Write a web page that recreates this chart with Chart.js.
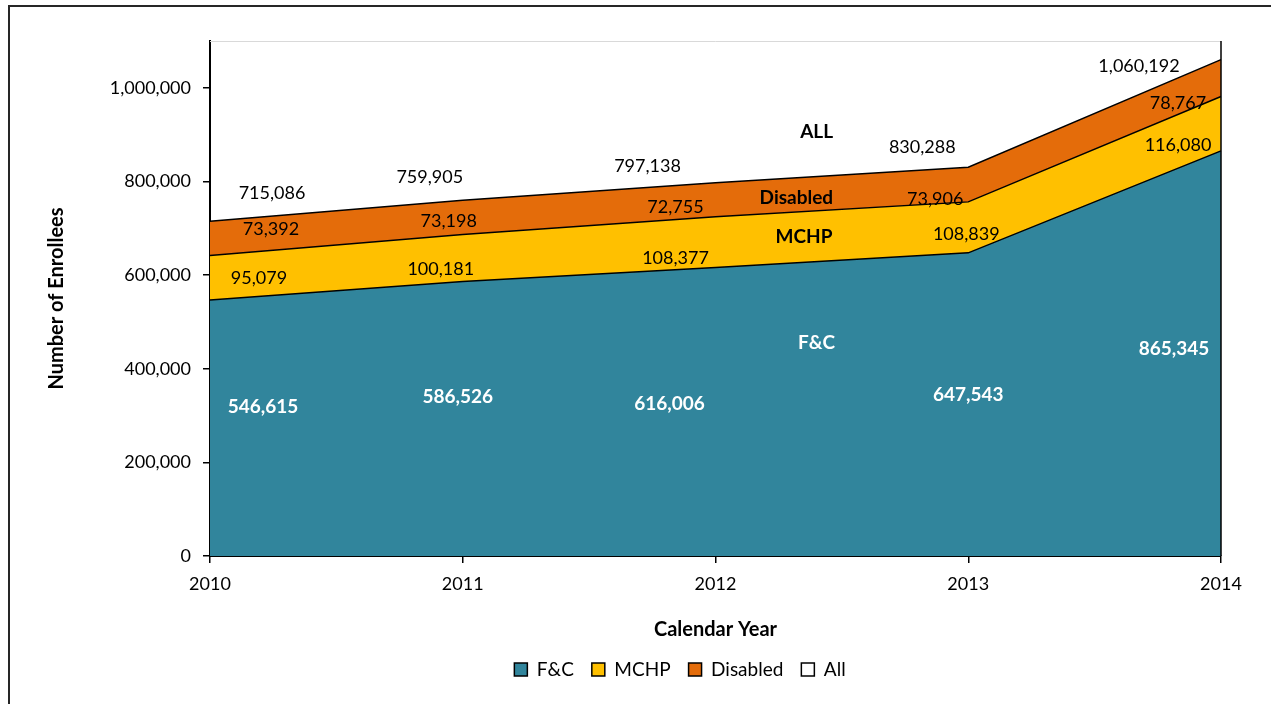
<!DOCTYPE html>
<html>
<head>
<meta charset="utf-8">
<script src="https://cdn.jsdelivr.net/npm/chart.js@4/dist/chart.umd.min.js"></script>
<style>
  html, body { margin: 0; padding: 0; background: #ffffff; }
  #wrap { width: 1271px; height: 704px; position: relative; }
</style>
</head>
<body>
<div id="wrap"><canvas id="c" width="1271" height="704"></canvas></div>
<script>
// ---- data ----
const years = ['2010', '2011', '2012', '2013', '2014'];
const fcValues = [546615, 586526, 616006, 647543, 865345];
const mchpValues = [95079, 100181, 108377, 108839, 116080];
const disabledValues = [73392, 73198, 72755, 73906, 78767];
const allValues = [715086, 759905, 797138, 830288, 1060192];
const yTickValues = [0, 200000, 400000, 600000, 800000, 1000000];
const seriesNames = ['F&C', 'MCHP', 'Disabled', 'All'];

// ---- label placement (pixel offsets from each segment's top point) ----
const allLabelOffsets = [[62, -28], [-33, -23], [-68, -17], [-46, -20], [-82, 7]];
const disabledLabelOffsets = [[61, 8], [-14, 21], [-40, 24], [-33, 32], [-43, 44]];
const mchpLabelOffsets = [[49, 23], [-22, 35], [-40, 41], [-2, 32], [-43, 49]];
const fcLabelOffsets = [[53, 107], [-5, 115], [-46, 136], [0, 142], [-47, 198]];
// series name tags: [text, category position, value position, colour]
const nameTags = [
  ['ALL', 2.40, 905800, '#000000'],
  ['Disabled', 2.32, 764500, '#000000'],
  ['MCHP', 2.35, 681000, '#000000'],
  ['F&C', 2.40, 456100, '#ffffff']
];
const legendCenterX = 680;

const FONT = 'Lato, "Open Sans", sans-serif';
const fmt = v => v.toLocaleString('en-US');

const framePlugin = {
  id: 'frame',
  afterLayout(chart) {
    const lg = chart.legend;
    if (lg) {
      const shift = legendCenterX - (lg.left + lg.right) / 2;
      lg.left += shift;
      lg.right += shift;
    }
  },
  beforeDraw(chart) {
    const ctx = chart.ctx;
    ctx.save();
    ctx.fillStyle = '#ffffff';
    ctx.fillRect(0, 0, chart.width, chart.height);
    ctx.strokeStyle = '#262626';
    ctx.lineWidth = 2;
    ctx.beginPath();
    ctx.moveTo(9, chart.height + 5);
    ctx.lineTo(9, 6);
    ctx.lineTo(chart.width + 5, 6);
    ctx.stroke();
    ctx.restore();
  },
  afterDatasetsDraw(chart) {
    const ctx = chart.ctx;
    const a = chart.chartArea;
    ctx.save();
    ctx.strokeStyle = '#d9d9d9';
    ctx.lineWidth = 1;
    ctx.beginPath();
    ctx.moveTo(a.left, a.top + 0.5);
    ctx.lineTo(a.right, a.top + 0.5);
    ctx.stroke();
    ctx.strokeStyle = '#000000';
    ctx.lineWidth = 1.5;
    ctx.beginPath();
    ctx.moveTo(a.right, a.top);
    ctx.lineTo(a.right, a.bottom);
    ctx.stroke();

    // data labels
    const sets = [
      [0, fcValues, fcLabelOffsets, 'bold 19px ' + FONT, '#ffffff'],
      [1, mchpValues, mchpLabelOffsets, '18px ' + FONT, '#000000'],
      [2, disabledValues, disabledLabelOffsets, '18px ' + FONT, '#000000'],
      [2, allValues, allLabelOffsets, '18px ' + FONT, '#000000']
    ];
    ctx.textAlign = 'center';
    ctx.textBaseline = 'middle';
    sets.forEach(([di, vals, offs, font, color]) => {
      const meta = chart.getDatasetMeta(di);
      ctx.font = font;
      ctx.fillStyle = color;
      vals.forEach((v, i) => {
        const p = meta.data[i];
        ctx.fillText(fmt(v), p.x + offs[i][0], p.y + offs[i][1]);
      });
    });
    const xs = chart.scales.x, ys = chart.scales.y;
    ctx.font = 'bold 19px ' + FONT;
    nameTags.forEach(([t, xv, yv, color]) => {
      ctx.fillStyle = color;
      ctx.fillText(t, xs.getPixelForValue(xv), ys.getPixelForValue(yv));
    });
    ctx.restore();
  }
};

const lineBase = { tension: 0, pointRadius: 0, pointHoverRadius: 0, borderColor: '#000000', borderWidth: 1.5 };

new Chart(document.getElementById('c'), {
  type: 'line',
  data: {
    labels: years,
    datasets: [
      Object.assign({ label: seriesNames[0], data: fcValues, backgroundColor: '#31859c', fill: 'origin' }, lineBase),
      Object.assign({ label: seriesNames[1], data: mchpValues, backgroundColor: '#ffc000', fill: '-1' }, lineBase),
      Object.assign({ label: seriesNames[2], data: disabledValues, backgroundColor: '#e46c0a', fill: '-1' }, lineBase),
      Object.assign({}, lineBase, { label: seriesNames[3], data: allValues, backgroundColor: '#ffffff', borderColor: 'rgba(0,0,0,0)', borderWidth: 0, fill: false, showLine: false, stack: 'total' })
    ]
  },
  options: {
    responsive: false,
    animation: false,
    events: [],
    layout: { padding: { top: 41, right: 50, left: 0, bottom: 15 } },
    plugins: {
      tooltip: { enabled: false },
      title: { display: false },
      legend: {
        position: 'bottom',
        labels: {
          font: { family: FONT, size: 19 },
          color: '#000000',
          boxWidth: 13,
          boxHeight: 13,
          padding: 18,
          generateLabels(chart) {
            const items = Chart.defaults.plugins.legend.labels.generateLabels(chart);
            return items.map(it => Object.assign(it, { strokeStyle: '#000000', lineWidth: 1.5 }));
          }
        }
      }
    },
    scales: {
      x: {
        z: 1,
        offset: false,
        grid: { display: true, drawOnChartArea: false, drawTicks: true, tickLength: 7, color: '#000000', lineWidth: 1.5 },
        border: { display: true, color: '#000000', width: 2 },
        ticks: { font: { family: FONT, size: 18 }, color: '#000000', padding: 10, maxRotation: 0 },
        title: { display: true, text: 'Calendar Year', font: { family: FONT, size: 20, weight: 'bold' }, color: '#000000', padding: { top: 0, bottom: 0 } },
        afterFit(scale) { scale.height = 86; }
      },
      y: {
        z: 1,
        stacked: true,
        min: 0,
        max: 1100000,
        afterBuildTicks(scale) { scale.ticks = yTickValues.map(v => ({ value: v })); },
        grid: { display: true, drawOnChartArea: false, drawTicks: true, tickLength: 7, color: '#000000', lineWidth: 1.5 },
        border: { display: true, color: '#000000', width: 2 },
        ticks: { font: { family: FONT, size: 18 }, color: '#000000', padding: 12, callback: v => fmt(v) },
        title: { display: true, text: 'Number of Enrollees', font: { family: FONT, size: 20, weight: 'bold' }, color: '#000000', padding: { top: 45, bottom: 0 } },
        afterFit(scale) { scale.width = 210; }
      }
    }
  },
  plugins: [framePlugin]
});
</script>
</body>
</html>
